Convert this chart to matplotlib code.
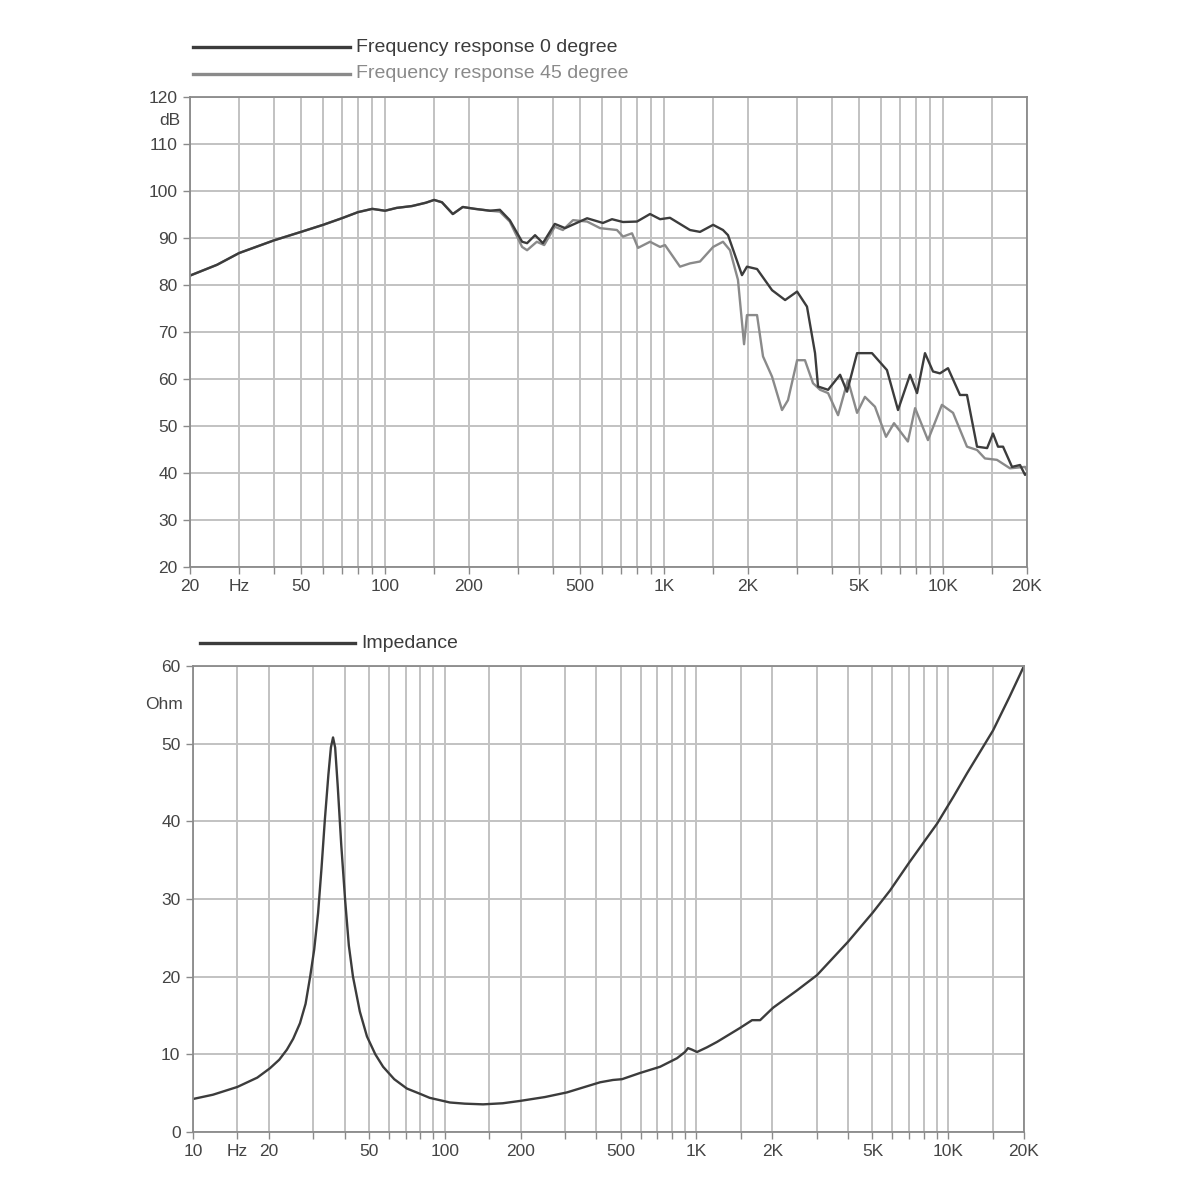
import matplotlib
matplotlib.use("Agg")
import matplotlib.pyplot as plt
import matplotlib.transforms as mtransforms
from matplotlib.lines import Line2D

plt.rcParams['font.family'] = ['Liberation Sans', 'DejaVu Sans']

# Frequency response, 0 degree (Hz, dB)
freq_0 = [20, 25, 30, 40, 50, 60, 70, 80, 90, 100, 110, 125, 140, 150, 160, 175, 190,
          210, 238, 258, 280, 310, 323, 345, 368, 406, 442, 530, 604, 651, 713, 800,
          891, 968, 1050, 1239, 1346, 1500, 1627, 1696, 1903, 1983, 2155, 2439, 2717,
          2999, 3254, 3478, 3565, 3873, 4276, 4529, 4920, 5565, 6296, 6898, 7617, 8071,
          8618, 9207, 9749, 10420, 11505, 12187, 13241, 14389, 15105, 15746, 16412,
          17675, 18882, 19680, 20000]
spl_0 = [82.0, 84.3, 86.8, 89.5, 91.3, 92.8, 94.2, 95.5, 96.2, 95.8, 96.4, 96.8, 97.5,
         98.1, 97.6, 95.1, 96.6, 96.2, 95.8, 96.0, 93.8, 89.2, 88.9, 90.6, 88.9, 93.0,
         92.1, 94.2, 93.2, 94.0, 93.4, 93.5, 95.1, 94.0, 94.3, 91.7, 91.3, 92.8, 91.7,
         90.6, 82.1, 83.9, 83.4, 78.9, 76.8, 78.6, 75.4, 65.5, 58.4, 57.7, 60.9, 57.3,
         65.5, 65.5, 61.9, 53.4, 60.9, 57.0, 65.5, 61.6, 61.2, 62.3, 56.6, 56.6, 45.6,
         45.3, 48.4, 45.6, 45.6, 41.3, 41.7, 39.6, 40.0]

# Frequency response, 45 degree (Hz, dB)
freq_45 = [20, 25, 30, 40, 50, 60, 70, 80, 90, 100, 110, 125, 140, 150, 160, 175, 190,
           210, 238, 258, 280, 310, 323, 350, 372, 406, 434, 472, 530, 590, 678, 713,
           768, 807, 891, 968, 1008, 1141, 1239, 1346, 1500, 1627, 1724, 1841, 1936,
           1983, 2155, 2264, 2439, 2648, 2782, 3000, 3200, 3420, 3627, 3873, 4206, 4562,
           4920, 5250, 5703, 6248, 6674, 7483, 7943, 8832, 9909, 10863, 12187, 13241,
           14135, 15605, 17378, 19680, 20000]
spl_45 = [82.0, 84.3, 86.8, 89.5, 91.3, 92.8, 94.2, 95.5, 96.2, 95.8, 96.4, 96.8, 97.5,
          98.1, 97.6, 95.1, 96.6, 96.2, 95.8, 95.6, 93.5, 88.1, 87.4, 89.2, 88.5, 92.4,
          91.7, 93.8, 93.5, 92.1, 91.7, 90.3, 91.0, 87.9, 89.2, 88.1, 88.5, 83.9, 84.6,
          85.0, 88.1, 89.2, 87.4, 81.1, 67.4, 73.6, 73.6, 64.8, 60.5, 53.4, 55.5, 64.0,
          64.0, 59.1, 57.7, 57.0, 52.3, 59.8, 52.8, 56.2, 54.1, 47.7, 50.6, 46.7, 53.8,
          47.0, 54.5, 52.8, 45.6, 44.9, 43.1, 42.8, 41.0, 41.3, 40.5]

# Impedance (Hz, Ohm)
freq_imp = [10, 12, 15, 18, 20.2, 22, 23.6, 25, 26.6, 28, 29.2, 30.3, 31.4, 32.4, 33.4,
            34.5, 35.3, 36.0, 36.7, 37.6, 38.8, 40.2, 41.6, 43.2, 46, 49.1, 53, 56.9, 63,
            70.7, 80, 87.1, 104.8, 120, 142, 170, 199, 250, 306, 360, 414, 466, 506, 597,
            717, 837, 900, 926, 960, 1005, 1100, 1207, 1490, 1663, 1790, 2015, 2500, 3012,
            4002, 5000, 5874, 7000, 9031, 10500, 11885, 15068, 17500, 20000]
ohm_imp = [4.25, 4.8, 5.8, 7.0, 8.2, 9.3, 10.6, 12.0, 14.0, 16.5, 20.0, 23.5, 28.2, 34.0,
           40.2, 46.0, 49.5, 50.8, 49.5, 44.4, 37.0, 29.9, 24.0, 20.0, 15.5, 12.3, 10.0,
           8.4, 6.8, 5.6, 4.9, 4.4, 3.8, 3.65, 3.56, 3.7, 4.0, 4.5, 5.1, 5.8, 6.4, 6.7,
           6.8, 7.6, 8.4, 9.5, 10.3, 10.8, 10.6, 10.3, 10.9, 11.6, 13.4, 14.4, 14.4, 16.0,
           18.2, 20.2, 24.5, 28.2, 31.1, 34.7, 39.7, 43.2, 46.2, 51.7, 56.0, 60.0]

spl_ticks = [20, 30, 40, 50, 60, 70, 80, 90, 100, 110, 120]
imp_ticks = [0, 10, 20, 30, 40, 50, 60]
top_xticks = [20, 30, 50, 100, 200, 500, 1000, 2000, 5000, 10000, 20000]
top_xlabels = ['20', 'Hz', '50', '100', '200', '500', '1K', '2K', '5K', '10K', '20K']
bot_xticks = [10, 15, 20, 50, 100, 200, 500, 1000, 2000, 5000, 10000, 20000]
bot_xlabels = ['10', 'Hz', '20', '50', '100', '200', '500', '1K', '2K', '5K', '10K', '20K']
grid_steps = [1, 1.5, 2, 3, 4, 5, 6, 7, 8, 9]

TEXT = '#444444'
GRID = '#c2c2c2'
DARK = '#3c3c3c'
LIGHT = '#8a8a8a'


def style_axes(ax, xmin, xmax, xticks, xlabels, yticks, unit, unit_y):
  ax.set_xscale('log')
  ax.set_xlim(xmin, xmax)
  grid_pos = [m * 10 ** d for d in range(0, 5) for m in grid_steps]
  grid_pos = [g for g in grid_pos if xmin <= g <= xmax]
  ax.set_xticks(grid_pos, minor=True)
  ax.set_xticks(xticks)
  ax.set_xticklabels(xlabels)
  ax.xaxis.set_minor_formatter(plt.NullFormatter())
  ax.set_yticks(yticks)
  ax.set_ylim(yticks[0], yticks[-1])
  ax.grid(which='both', color=GRID, lw=1.4)
  ax.set_axisbelow(True)
  ax.tick_params(which='both', direction='out', length=5, width=1, color='#8a8a8a',
                 labelcolor=TEXT, labelsize=12.5, pad=4)
  for s in ax.spines.values():
    s.set_color('#8a8a8a')
    s.set_linewidth(1.3)
  trans = mtransforms.blended_transform_factory(ax.transAxes, ax.transData)
  ax.text(-0.012, unit_y, unit, transform=trans, ha='right', va='center',
          fontsize=12.5, color=TEXT)


fig = plt.figure(figsize=(12, 12), dpi=100)

# Top: frequency response
ax1 = fig.add_axes([190 / 1200, 1 - 567 / 1200, 837 / 1200, 470 / 1200])
ax1.plot(freq_45, spl_45, color=LIGHT, lw=1.7)
ax1.plot(freq_0, spl_0, color=DARK, lw=1.7)
style_axes(ax1, 20, 20000, top_xticks, top_xlabels, spl_ticks, 'dB', 115)

# Bottom: impedance
ax2 = fig.add_axes([193 / 1200, 1 - 1132 / 1200, 831 / 1200, 466 / 1200])
ax2.plot(freq_imp, ohm_imp, color=DARK, lw=1.7)
style_axes(ax2, 10, 20000, bot_xticks, bot_xlabels, imp_ticks, 'Ohm', 55)

# Legend keys drawn above each chart
def legend_key(x0, x1, y, label, color):
  fy = 1 - y / 1200
  fig.add_artist(Line2D([x0 / 1200, x1 / 1200], [fy, fy], color=color, lw=2.4))
  fig.text((x1 + 6) / 1200, fy, label, ha='left', va='center', fontsize=14, color=color)

legend_key(193, 350, 47, 'Frequency response 0 degree', DARK)
legend_key(193, 350, 74, 'Frequency response 45 degree', LIGHT)
legend_key(200, 355, 643, 'Impedance', DARK)

fig.savefig('out.png', dpi=100, facecolor='white')
